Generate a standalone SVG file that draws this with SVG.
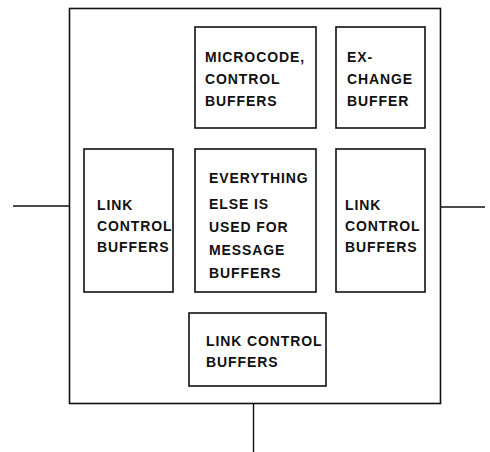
<svg xmlns="http://www.w3.org/2000/svg" width="490" height="452" viewBox="0 0 490 452">
<style>
.box{fill:none;stroke:#111;stroke-width:1.6}
.ln{stroke:#111;stroke-width:1.4;fill:none}
text{font-family:"Liberation Sans",Arial,sans-serif;font-size:14px;font-weight:bold;fill:#111;letter-spacing:0.9px}
</style>
<rect width="490" height="452" fill="#fff"/>
<g id="outer"><rect class="box" x="69.5" y="8.5" width="371" height="395" stroke-width="2"/></g>
<g id="microcode"><rect class="box" x="195" y="27" width="121" height="101"/>
<text x="205" y="62">MICROCODE,</text><text x="205" y="84">CONTROL</text><text x="205" y="106">BUFFERS</text></g>
<g id="exchange"><rect class="box" x="336" y="27" width="89" height="101"/>
<text x="347" y="62">EX-</text><text x="347" y="84">CHANGE</text><text x="347" y="106">BUFFER</text></g>
<g id="link-left"><rect class="box" x="84" y="149" width="89" height="143"/>
<text x="97" y="210">LINK</text><text x="97" y="231">CONTROL</text><text x="97" y="252">BUFFERS</text></g>
<g id="message"><rect class="box" x="195" y="149" width="121" height="143"/>
<text x="209" y="183">EVERYTHING</text><text x="209" y="209">ELSE IS</text><text x="209" y="232">USED FOR</text><text x="209" y="255">MESSAGE</text><text x="209" y="278">BUFFERS</text></g>
<g id="link-right"><rect class="box" x="336" y="149" width="89" height="143"/>
<text x="345" y="210">LINK</text><text x="345" y="231">CONTROL</text><text x="345" y="252">BUFFERS</text></g>
<g id="link-bottom"><rect class="box" x="189" y="313" width="137" height="73"/>
<text x="206" y="346">LINK CONTROL</text><text x="206" y="367">BUFFERS</text></g>
<g id="connectors">
<line class="ln" x1="13" y1="206" x2="69" y2="206"/>
<line class="ln" x1="440" y1="207" x2="485" y2="207"/>
<line class="ln" x1="253.5" y1="403" x2="253.5" y2="452"/>
</g>
</svg>
